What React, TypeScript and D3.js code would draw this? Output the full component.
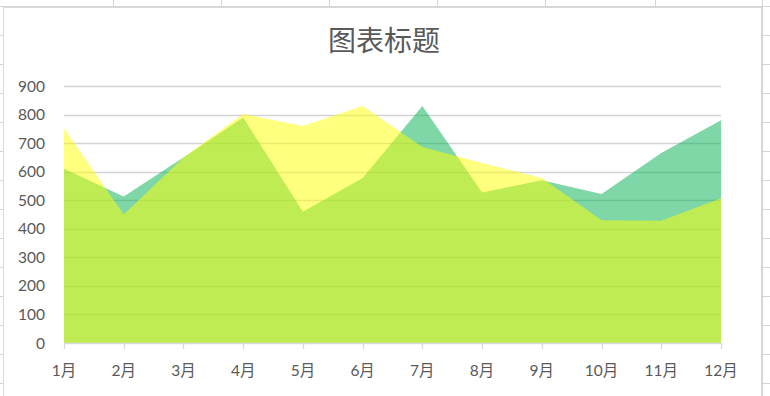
import React from "react";
import * as d3 from "d3";

const months = ["1月", "2月", "3月", "4月", "5月", "6月", "7月", "8月", "9月", "10月", "11月", "12月"];
const seriesGreen = [610, 513, 650, 790, 460, 578, 830, 527, 570, 522, 665, 780];
const seriesYellow = [752, 450, 650, 802, 760, 830, 686, 630, 578, 430, 428, 507];
const yTicks = [0, 100, 200, 300, 400, 500, 600, 700, 800, 900];
const sheetCols = [113, 221, 329, 437, 545, 655, 762];
const sheetRows = [6, 35, 64, 93, 122, 151, 180, 209, 238, 267, 296, 325, 354, 383];

const W = 770;
const H = 396;

export default function App() {
  const x = d3.scalePoint<string>().domain(months).range([64, 721]);
  const y = d3.scaleLinear().domain([0, 900]).range([343, 86]);
  const area = d3
    .area<number>()
    .x((_, i) => x(months[i]) as number)
    .y0(y(0))
    .y1((d) => y(d));

  const labelFont = "Lato, 'Noto Sans CJK SC', sans-serif";
  return (
    <div style={{ position: "fixed", left: 0, top: 0 }}>
      <svg width={W} height={H} style={{ display: "block" }}>
        <rect x={0} y={0} width={W} height={H} fill="#ffffff" />
        {sheetCols.map((c) => (
          <line key={"c" + c} x1={c + 0.5} x2={c + 0.5} y1={0} y2={H} stroke="#d4d4d4" strokeWidth={1} />
        ))}
        {sheetRows.map((r) => (
          <line key={"r" + r} x1={0} x2={W} y1={r + 0.5} y2={r + 0.5} stroke="#d4d4d4" strokeWidth={1} />
        ))}
        <rect x={3.5} y={7.5} width={758} height={H} fill="#ffffff" stroke="#d9d9d9" strokeWidth={1} />
        <text
          x={384}
          y={51}
          textAnchor="middle"
          fontFamily="'Noto Sans CJK SC', sans-serif"
          fontSize={28}
          fill="#595959"
        >
          图表标题
        </text>
        {yTicks.map((t) => (
          <g key={t}>
            {t > 0 && (
              <line
                x1={64}
                x2={721}
                y1={Math.round(y(t)) + 0.5}
                y2={Math.round(y(t)) + 0.5}
                stroke="#d4d4d4"
                strokeWidth={1.3}
              />
            )}
            <text
              x={45}
              y={y(t)}
              dy="0.36em"
              textAnchor="end"
              fontFamily={labelFont}
              fontSize={15.5}
              fill="#595959"
            >
              {t}
            </text>
          </g>
        ))}
        <path d={area(seriesGreen) || ""} fill="rgba(0,176,80,0.5)" />
        <path d={area(seriesYellow) || ""} fill="rgba(255,255,0,0.5)" />
        <line x1={64} x2={721} y1={343.5} y2={343.5} stroke="#d9d9d9" strokeWidth={1.3} />
        {months.map((m) => (
          <g key={m}>
            <line
              x1={Math.round(x(m) as number) + 0.5}
              x2={Math.round(x(m) as number) + 0.5}
              y1={343}
              y2={349}
              stroke="#d9d9d9"
              strokeWidth={1.3}
            />
            <text
              x={x(m) as number}
              y={376}
              textAnchor="middle"
              fontFamily={labelFont}
              fontSize={15.5}
              fill="#595959"
            >
              {m}
            </text>
          </g>
        ))}
      </svg>
    </div>
  );
}
